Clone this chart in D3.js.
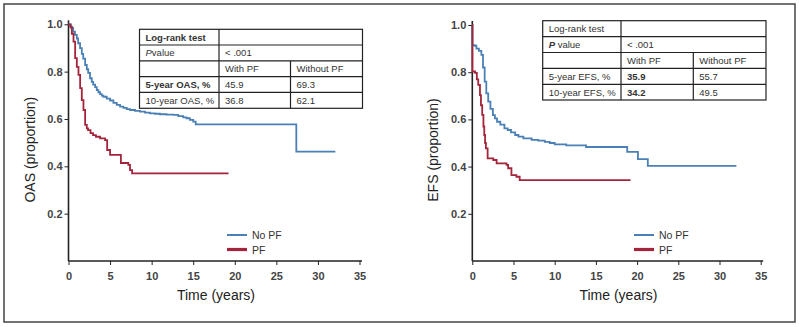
<!doctype html>
<html lang="en">
<head>
<meta charset="utf-8">
<title>OAS and EFS by PF</title>
<style>
  body { margin: 0; background: #fff; }
  text { font-family: "Liberation Sans", Arial, sans-serif; }
</style>
</head>
<body>
<svg id="mysvg"></svg>
<script src="https://d3js.org/d3.v7.min.js"></script>
<script>
var width = 800;
var height = 327;

// Kaplan-Meier steps (time in years, proportion)
var oasNoPfTime = [0, 0.3, 0.56, 0.78, 1.0, 1.16, 1.39, 1.6, 1.77, 2.0, 2.2, 2.37, 2.59, 2.8, 2.97, 3.2, 3.4, 3.6, 3.8, 4.0, 4.2, 4.6, 5.0, 5.4, 5.8, 6.2, 6.6, 7.0, 7.4, 8.0, 8.6, 9.2, 9.8, 10.4, 11.0, 11.8, 12.6, 13.2, 13.8, 14.2, 14.6, 15.0, 15.3, 27.4, 32.1];
var oasNoPfSurv = [1.0, 0.985, 0.969, 0.955, 0.94, 0.92, 0.899, 0.875, 0.855, 0.828, 0.81, 0.795, 0.772, 0.757, 0.745, 0.735, 0.722, 0.713, 0.705, 0.699, 0.694, 0.686, 0.678, 0.668, 0.66, 0.652, 0.647, 0.642, 0.638, 0.634, 0.631, 0.627, 0.624, 0.622, 0.62, 0.618, 0.617, 0.612, 0.607, 0.603, 0.596, 0.589, 0.577, 0.462, 0.462];
var oasPfTime = [0, 0.2, 0.4, 0.6, 0.8, 1.0, 1.2, 1.4, 1.6, 1.8, 2.0, 2.2, 2.35, 2.65, 2.95, 3.3, 3.8, 4.4, 4.65, 5.0, 6.3, 7.2, 7.4, 7.65, 19.25];
var oasPfSurv = [1.0, 0.99, 0.96, 0.927, 0.857, 0.82, 0.786, 0.73, 0.68, 0.638, 0.575, 0.56, 0.553, 0.54, 0.532, 0.525, 0.518, 0.511, 0.469, 0.448, 0.414, 0.406, 0.384, 0.37, 0.37];

var efsNoPfTime = [0, 0.02, 0.3, 0.5, 0.8, 1.1, 1.3, 1.5, 1.7, 1.93, 2.2, 2.5, 2.74, 3.0, 3.4, 3.9, 4.3, 4.7, 5.2, 5.6, 6.2, 7.2, 8.0, 8.8, 9.4, 10.0, 11.4, 13.8, 18.8, 20.1, 21.3, 32.05];
var efsNoPfSurv = [1.0, 0.915, 0.912, 0.9, 0.89, 0.873, 0.82, 0.76, 0.71, 0.675, 0.645, 0.618, 0.604, 0.59, 0.578, 0.562, 0.555, 0.545, 0.534, 0.527, 0.52, 0.513, 0.51, 0.505, 0.5, 0.494, 0.49, 0.483, 0.462, 0.432, 0.403, 0.403];
var efsPfTime = [0, 0.02, 0.33, 0.55, 0.72, 0.93, 1.05, 1.2, 1.35, 1.45, 1.55, 1.65, 1.86, 2.55, 2.95, 4.15, 4.35, 4.75, 5.35, 5.75, 19.2];
var efsPfSurv = [1.0, 0.803, 0.797, 0.77, 0.746, 0.703, 0.66, 0.619, 0.57, 0.534, 0.5, 0.477, 0.435, 0.428, 0.414, 0.407, 0.393, 0.364, 0.357, 0.343, 0.343];

var xTicks = [0, 5, 10, 15, 20, 25, 30, 35];
var yTicks = [0.2, 0.4, 0.6, 0.8, 1.0];
var legendLabels = ["No PF", "PF"];

var oasTable = [
  ["Log-rank test", "", ""],
  ["P value", "< .001", ""],
  ["", "With PF", "Without PF"],
  ["5-year OAS, %", "45.9", "69.3"],
  ["10-year OAS, %", "36.8", "62.1"]
];
var efsTable = [
  ["Log-rank test", "", ""],
  ["P value", "< .001", ""],
  ["", "With PF", "Without PF"],
  ["5-year EFS, %", "35.9", "55.7"],
  ["10-year EFS, %", "34.2", "49.5"]
];

var blue = "#4a80b5";
var red = "#a4253b";

var svg = d3.select("#mysvg")
  .attr("width", width)
  .attr("height", height);

// outer frame
svg.append("rect")
  .attr("x", 4).attr("y", 4)
  .attr("width", 791).attr("height", 318)
  .style("fill", "none")
  .style("stroke", "#444")
  .style("stroke-width", 1.5);

function zip(t, s) {
  return t.map(function(d, i) { return {t: d, s: s[i]}; });
}

var panel = function(opt) {
  var x = d3.scaleLinear().domain([0, 35]).range([opt.x0, opt.x1]);
  var y = d3.scaleLinear().domain([0, 1]).range([261, opt.yTop]);
  var g = svg.append("g");

  // axes
  var xAxis = g.append("g")
    .attr("transform", "translate(0,261)")
    .call(d3.axisBottom(x).tickValues(xTicks).tickSize(4).tickSizeOuter(0).tickFormat(d3.format("d")));
  xAxis.select(".domain").remove();
  xAxis.selectAll("line").style("stroke", "#222");
  xAxis.selectAll("text")
    .attr("y", 11)
    .style("font-size", "11px").style("font-weight", "bold").style("fill", "#444")
    .style("font-family", "'Liberation Sans', Arial, sans-serif");

  var yAxis = g.append("g")
    .attr("transform", "translate(" + opt.x0 + ",0)")
    .call(d3.axisLeft(y).tickValues(yTicks).tickSize(4).tickSizeOuter(0).tickFormat(d3.format(".1f")));
  yAxis.select(".domain").remove();
  yAxis.selectAll("line").style("stroke", "#222");
  yAxis.selectAll("text")
    .attr("x", -6)
    .style("font-size", "11px").style("font-weight", "bold").style("fill", "#444")
    .style("font-family", "'Liberation Sans', Arial, sans-serif");

  g.append("line")
    .attr("x1", opt.x0).attr("x2", x(35) + 2.5)
    .attr("y1", 261).attr("y2", 261)
    .style("stroke", "#222").style("stroke-width", 1.6);
  g.append("line")
    .attr("x1", opt.x0).attr("x2", opt.x0)
    .attr("y1", opt.yTop - 4).attr("y2", 261)
    .style("stroke", "#222").style("stroke-width", 1.6);

  // titles
  g.append("text")
    .attr("x", (x(0) + x(35)) / 2 + 2).attr("y", 300)
    .attr("text-anchor", "middle")
    .style("font-size", "14px").style("fill", "#222")
    .text("Time (years)");
  g.append("text")
    .attr("transform", "translate(" + (opt.x0 - 34) + "," + ((261 + opt.yTop) / 2 + 7) + ") rotate(-90)")
    .attr("text-anchor", "middle")
    .style("font-size", "14px").style("fill", "#222")
    .text(opt.ylabel);

  // curves
  var line = d3.line()
    .curve(d3.curveStepAfter)
    .x(function(d) { return x(d.t); })
    .y(function(d) { return y(d.s); });
  g.append("path").datum(zip(opt.noTime, opt.noSurv)).attr("d", line)
    .style("fill", "none").style("stroke", blue).style("stroke-width", 1.8);
  g.append("path").datum(zip(opt.pfTime, opt.pfSurv)).attr("d", line)
    .style("fill", "none").style("stroke", red).style("stroke-width", 1.8);

  // legend
  var lg = g.append("g").attr("transform", "translate(" + opt.legX + ",235)");
  [blue, red].forEach(function(c, i) {
    lg.append("line")
      .attr("x1", 0).attr("x2", 20).attr("y1", i * 14.5).attr("y2", i * 14.5)
      .style("stroke", c).style("stroke-width", i === 0 ? 2 : 3.2);
    lg.append("text")
      .attr("x", 25).attr("y", i * 14.5 + 4)
      .style("font-size", "10.5px").style("fill", "#333")
      .text(legendLabels[i]);
  });

  // table
  var tb = g.append("g");
  var cols = opt.tCols, rows = opt.tRows;
  tb.append("rect")
    .attr("x", cols[0]).attr("y", rows[0])
    .attr("width", cols[3] - cols[0]).attr("height", rows[5] - rows[0])
    .style("fill", "#fff").style("stroke", "#222").style("stroke-width", 1.2);
  rows.slice(1, 5).forEach(function(r) {
    tb.append("line").attr("x1", cols[0]).attr("x2", cols[3]).attr("y1", r).attr("y2", r)
      .style("stroke", "#222").style("stroke-width", 1.2);
  });
  tb.append("line").attr("x1", cols[1]).attr("x2", cols[1]).attr("y1", rows[0]).attr("y2", rows[5])
    .style("stroke", "#222").style("stroke-width", 1.2);
  tb.append("line").attr("x1", cols[2]).attr("x2", cols[2]).attr("y1", rows[2]).attr("y2", rows[5])
    .style("stroke", "#222").style("stroke-width", 1.2);
  opt.table.forEach(function(row, ri) {
    row.forEach(function(cell, ci) {
      if (!cell) return;
      var t = tb.append("text")
        .attr("x", cols[ci] + 6).attr("y", (rows[ri] + rows[ri + 1]) / 2 + 3.5)
        .style("font-size", "9.5px").style("fill", "#333");
      if (ri === 1 && ci === 0) {
        t.append("tspan").style("font-style", "italic").style("font-weight", opt.boldP ? "bold" : "normal").text("P");
        t.append("tspan").text(opt.boldP ? " value" : "value");
      } else {
        t.text(cell);
        if (opt.bold[ri] && opt.bold[ri][ci]) t.style("font-weight", "bold");
      }
    });
  });
};

panel({
  x0: 68.5, x1: 359.5, yTop: 24.3, ylabel: "OAS (proportion)",
  noTime: oasNoPfTime, noSurv: oasNoPfSurv, pfTime: oasPfTime, pfSurv: oasPfSurv,
  legX: 227,
  table: oasTable, tCols: [139.5, 219, 290.5, 362.5], tRows: [29.3, 45, 60.8, 76.6, 92.4, 108.3],
  boldP: false,
  bold: {0: {0: true}, 3: {0: true}}
});

panel({
  x0: 472.3, x1: 760.7, yTop: 25, ylabel: "EFS (proportion)",
  noTime: efsNoPfTime, noSurv: efsNoPfSurv, pfTime: efsPfTime, pfSurv: efsPfSurv,
  legX: 634,
  table: efsTable, tCols: [542.7, 621, 693.3, 766], tRows: [20.7, 36.6, 52.5, 68.4, 84.3, 100],
  boldP: true,
  bold: {3: {1: true}, 4: {1: true}}
});
</script>
</body>
</html>
